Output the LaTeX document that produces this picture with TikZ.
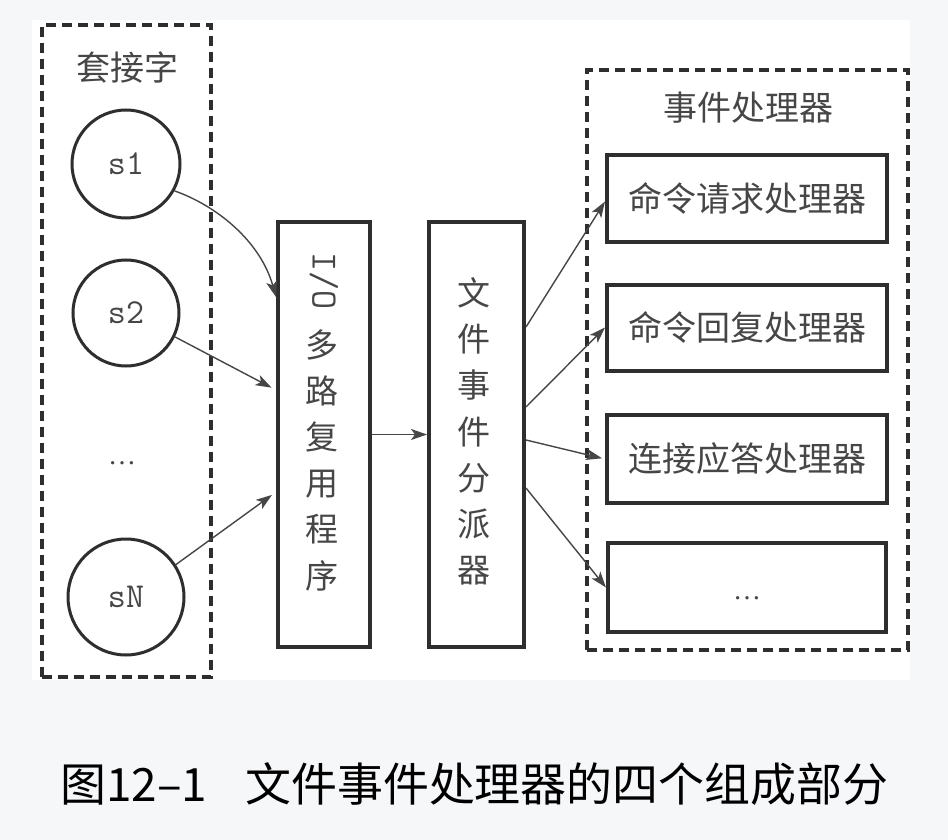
\documentclass[tikz,border=0pt]{standalone}
\usepackage{fontspec}
\usepackage{graphicx}
\setmainfont{Liberation Serif}
\newfontfamily\cjk{Noto Sans CJK SC}
\usetikzlibrary{arrows.meta}
\definecolor{pagebg}{HTML}{F6F7F9}
\definecolor{ink}{HTML}{2E2E2E}
\definecolor{txt}{HTML}{464646}
\begin{document}
\begin{tikzpicture}[x=1pt,y=-1pt,
  dashbox/.style={draw=ink, line width=4.5pt, dash pattern=on 10pt off 6pt, inner sep=0pt},
  solidbox/.style={draw=ink, line width=4pt, fill=white, inner sep=0pt},
  circ/.style={circle, draw=ink, line width=3pt, inner sep=0pt, font=\ttfamily\fontsize{35}{35}\selectfont, text=txt},
  lbl/.style={font=\cjk\fontsize{34}{34}\selectfont, text=txt, inner sep=0pt},
  vlbl/.style={font=\cjk\fontsize{33}{46.2}\selectfont, text=txt, inner sep=0pt, align=center},
  dotslbl/.style={font=\fontsize{28}{28}\selectfont, text=txt, inner sep=0pt, anchor=base},
  conn/.style={draw=txt, line width=1.4pt, -{Stealth[length=16pt,width=11pt,inset=4pt]}}
]
\fill[pagebg] (0,0) rectangle (948,840);
\fill[white] (32,20) rectangle (910,680);
\useasboundingbox (0,0) rectangle (948,840);

% dashed groups
\node[dashbox, minimum width=169pt, minimum height=652pt] (sock) at (126.5,351) {};
\node[dashbox, minimum width=321pt, minimum height=580pt] (hand) at (747.5,360) {};
\node[lbl] (tsock) at (127,67) {套接字};
\node[lbl] (thand) at (748,108) {事件处理器};

% sockets
\node[circ, minimum size=108pt] (s1) at (126,164) {s1};
\node[circ, minimum size=106pt] (s2) at (126,313) {s2};
\node[dotslbl] (sdots) at (122,464) {…};
\node[circ, minimum size=116pt] (sN) at (126,597) {sN};

% multiplexer and dispatcher
\node[solidbox, minimum width=92pt, minimum height=425pt] (io) at (324,434.5) {};
\node[font=\ttfamily\fontsize{37}{37}\selectfont, text=txt, rotate=-90, inner sep=0pt] (iotxt) at (324,281) {I/O};
\node[vlbl] (iochars) at (322,460) {多\\路\\复\\用\\程\\序};
\node[solidbox, minimum width=95pt, minimum height=425pt] (disp) at (476.5,434.5) {};
\node[vlbl] (dispchars) at (474,431.5) {文\\件\\事\\件\\分\\派\\器};

% handlers
\node[solidbox, minimum width=280pt, minimum height=86pt] (b1) at (747,198.5) {};
\node[lbl] (t1) at (b1) {命令请求处理器};
\node[solidbox, minimum width=280pt, minimum height=86pt] (b2) at (747,327.5) {};
\node[lbl] (t2) at (b2) {命令回复处理器};
\node[solidbox, minimum width=280pt, minimum height=88pt] (b3) at (747,459) {};
\node[lbl] (t3) at (b3) {连接应答处理器};
\node[solidbox, minimum width=278pt, minimum height=89pt] (b4) at (747,587.5) {};
\node[dotslbl] (t4) at (747,599) {…};

% connectors
\draw[conn] (s1.-29) .. controls (215,205) and (260,240) .. ([yshift=137.5pt]io.west);
\draw[conn, shorten >=5pt] (s2.-26) -- ([yshift=44.5pt]io.west);
\draw[conn, shorten >=5pt] (sN.33) -- ([yshift=-57.5pt]io.west);
\draw[conn] (io.east) -- (disp.west);
\draw[conn] ([yshift=107.5pt]disp.east) -- ([yshift=-3pt]b1.west);
\draw[conn] ([yshift=27.5pt]disp.east) -- (b2.west);
\draw[conn, shorten >=3pt] ([yshift=-5.5pt]disp.east) -- (b3.west);
\draw[conn] ([yshift=-53.5pt]disp.east) -- (b4.west);

% caption
\node[anchor=west, text=black, inner sep=0pt] (cap) at (60,784) {\resizebox{828pt}{!}{\cjk\fontsize{48}{48}\selectfont 图12–1\hspace{40pt}文件事件处理器的四个组成部分}};
\end{tikzpicture}
\end{document}
